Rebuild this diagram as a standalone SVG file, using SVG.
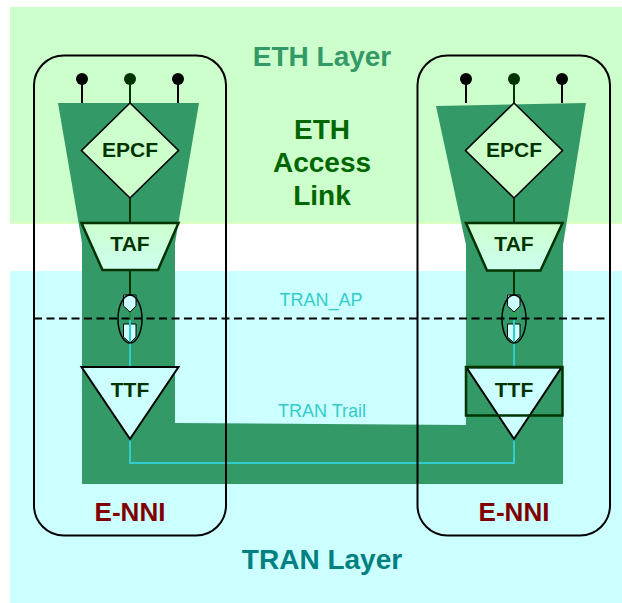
<svg xmlns="http://www.w3.org/2000/svg" width="622" height="603" viewBox="0 0 622 603">
  <defs>
    <linearGradient id="tafGrad" x1="0" y1="0" x2="0" y2="1">
      <stop offset="0" stop-color="#ccffcc"/>
      <stop offset="1" stop-color="#ccfff0"/>
    </linearGradient>
    <style>
      text { font-family: "Liberation Sans", Arial, sans-serif; text-anchor: middle; }
      .lbl { font-size: 21px; font-weight: bold; fill: #003300; }
      .nni { font-size: 26px; font-weight: bold; fill: #800000; }
      .layer { font-size: 28px; font-weight: bold; }
      .link { font-size: 28px; font-weight: bold; fill: #006600; }
      .tran { font-size: 18px; fill: #33cccc; }
      .epcf { fill: #ccffcc; stroke: #000; stroke-width: 1.6; }
      .taf { fill: url(#tafGrad); stroke: #003300; stroke-width: 2.5; }
      .ttf { fill: #ccffff; stroke: #000; stroke-width: 2; }
      .cp { fill: #ccffff; stroke: #000; stroke-width: 1; }
      .box { fill: none; stroke: #000; stroke-width: 2; }
      .pin { stroke: #000; stroke-width: 2; }
      .pinc { stroke: #003300; stroke-width: 2; }
      .ethl { stroke: #003300; stroke-width: 2; fill: none; }
      .tranl { stroke: #33cccc; stroke-width: 2; fill: none; }
    </style>
  </defs>

  <g id="layers">
    <rect x="10" y="7" width="612" height="216.5" fill="#ccffcc"/>
    <line x1="10" y1="223" x2="622" y2="223" stroke="#ddffbb" stroke-width="1.5"/>
    <rect x="10" y="271" width="612" height="332" fill="#ccffff"/>
    <text class="layer" x="322" y="66" fill="#339966">ETH Layer</text>
    <text class="layer" x="322" y="569" fill="#008080">TRAN Layer</text>
  </g>

  <g id="eth-access-link">
    <polygon points="58,103 199,103 175,243 175,423 466,425 466,245 436,106 586,103 563,245 563,484 82,484 82,243" fill="#339966"/>
    <text class="link" x="322" y="139">ETH</text>
    <text class="link" x="322" y="171.5">Access</text>
    <text class="link" x="322" y="205">Link</text>
  </g>

  <g id="connectors">
    <line class="pin" x1="82" y1="79" x2="82" y2="103"/>
    <line class="pinc" x1="130" y1="79" x2="130" y2="103"/>
    <line class="pin" x1="178" y1="79" x2="178" y2="103"/>
    <line class="pin" x1="466" y1="79" x2="466" y2="103"/>
    <line class="pinc" x1="514" y1="79" x2="514" y2="103"/>
    <line class="pin" x1="562" y1="79" x2="562" y2="103"/>
    <line class="ethl" x1="130" y1="198" x2="130" y2="223"/>
    <line class="ethl" x1="130" y1="270" x2="130" y2="295"/>
    <line class="ethl" x1="514" y1="198" x2="514" y2="223"/>
    <line class="ethl" x1="514" y1="270" x2="514" y2="295"/>
    <line x1="130" y1="312" x2="130" y2="320" stroke="#1f8f3f" stroke-width="2"/>
    <line x1="514" y1="312" x2="514" y2="320" stroke="#22aa44" stroke-width="2"/>
    <line x1="34" y1="318.5" x2="608" y2="318.5" stroke="#000" stroke-width="2" stroke-dasharray="8 4.5"/>
    <path class="tranl" d="M130,439 V463 H514 V439"/>
  </g>

  <g id="pins">
    <circle cx="82" cy="79" r="6" fill="#000"/>
    <circle cx="130" cy="79" r="6" fill="#003300"/>
    <circle cx="178" cy="79" r="6" fill="#000"/>
    <circle cx="466" cy="79" r="6" fill="#000"/>
    <circle cx="514" cy="79" r="6" fill="#003300"/>
    <circle cx="562" cy="79" r="6" fill="#000"/>
  </g>

  <g id="epcf-left">
    <polygon class="epcf" points="130,103 178.5,150.5 130,198 81.5,150.5"/>
    <text class="lbl" x="130" y="157">EPCF</text>
  </g>
  <g id="epcf-right">
    <polygon class="epcf" points="514,103 562.5,150.5 514,198 465.5,150.5"/>
    <text class="lbl" x="514" y="157">EPCF</text>
  </g>

  <g id="taf-left">
    <polygon class="taf" points="81.5,223 178.5,223 158,270 102.5,270"/>
    <text class="lbl" x="130" y="251">TAF</text>
  </g>
  <g id="taf-right">
    <polygon class="taf" points="466,223 562.5,223 540.5,270.5 487,270.5"/>
    <text class="lbl" x="514" y="251">TAF</text>
  </g>

  <g id="tran-ap-left">
    <polygon class="cp" points="123.5,295 136,295 136,306 130,312 123.5,306"/>
    <polygon class="cp" points="123.5,324 136,324 136,337 130,343 123.5,337"/>
    <line class="tranl" x1="130" y1="320" x2="130" y2="367"/>
    <ellipse cx="130" cy="319" rx="12" ry="24" fill="none" stroke="#000" stroke-width="1.5"/>
  </g>
  <g id="tran-ap-right">
    <polygon class="cp" points="507.5,295 520,295 520,306 514,312 507.5,306"/>
    <polygon class="cp" points="507.5,324 520,324 520,337 514,343 507.5,337"/>
    <line class="tranl" x1="514" y1="320" x2="514" y2="367"/>
    <ellipse cx="514" cy="319" rx="12" ry="24" fill="none" stroke="#000" stroke-width="1.5"/>
  </g>

  <g id="ttf-left">
    <polygon class="ttf" points="81.5,367 178.5,367 130,439"/>
    <text class="lbl" x="130" y="396.5">TTF</text>
  </g>
  <g id="ttf-right">
    <polygon class="ttf" points="466.5,367.5 561.5,367.5 514,439"/>
    <rect x="466" y="367" width="96.5" height="48.5" fill="none" stroke="#003300" stroke-width="2.5"/>
    <text class="lbl" x="514" y="396.5">TTF</text>
  </g>

  <g id="labels">
    <text class="tran" x="321" y="305.5">TRAN_AP</text>
    <text class="tran" x="322" y="416.5">TRAN Trail</text>
  </g>

  <g id="enni-left">
    <rect class="box" x="34" y="55.5" width="192" height="480" rx="30" ry="30"/>
    <text class="nni" x="130" y="521">E-NNI</text>
  </g>
  <g id="enni-right">
    <rect class="box" x="417.5" y="55.5" width="192.5" height="480" rx="30" ry="30"/>
    <text class="nni" x="514" y="521">E-NNI</text>
  </g>
</svg>
